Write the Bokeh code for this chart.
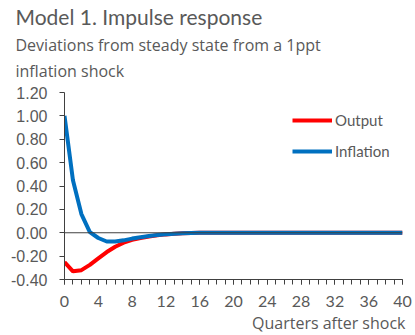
from bokeh.plotting import figure
from bokeh.models import (Range1d, FixedTicker, Span, Title, Legend, LegendItem,
                          NumeralTickFormatter)
from bokeh.embed import file_html
from bokeh.resources import INLINE

quarters = list(range(0, 41))
output = [-0.25, -0.33, -0.32, -0.275, -0.22, -0.165, -0.12, -0.085, -0.06,
          -0.045, -0.032, -0.022, -0.014, -0.008, -0.004, -0.002] + [0.0] * 25
inflation = [1.00, 0.45, 0.16, 0.005, -0.045, -0.075, -0.075, -0.065, -0.05,
             -0.038, -0.028, -0.02, -0.013, -0.008, -0.004, -0.002] + [0.0] * 25
y_ticks = [-0.4, -0.2, 0.0, 0.2, 0.4, 0.6, 0.8, 1.0, 1.2]
x_ticks = list(range(0, 41, 4))

title_text = "Model 1. Impulse response"
subtitle_1 = "Deviations from steady state from a 1ppt"
subtitle_2 = "inflation shock"
x_label = "Quarters after shock"

GRAY = "#595959"
AXIS = "#404040"

p = figure(width=415, height=335, output_backend="svg", toolbar_location=None,
           x_range=Range1d(0, 40), y_range=Range1d(-0.4, 1.2),
           min_border_left=64, min_border_right=13, min_border_top=10,
           min_border_bottom=56)
p.outline_line_color = None
p.grid.visible = False
p.background_fill_color = "white"
p.border_fill_color = "white"

# axes
p.xaxis.ticker = FixedTicker(ticks=x_ticks, minor_ticks=quarters)
p.yaxis.ticker = FixedTicker(ticks=y_ticks, minor_ticks=[])
p.yaxis.formatter = NumeralTickFormatter(format="0.00")
for ax in (p.xaxis, p.yaxis):
    ax.axis_line_color = AXIS
    ax.axis_line_width = 1
    ax.major_tick_line_color = AXIS
    ax.minor_tick_line_color = AXIS
    ax.major_tick_in = 0
    ax.minor_tick_in = 0
    ax.major_label_text_color = GRAY
p.xaxis.major_tick_out = 5
p.xaxis.minor_tick_out = 5
p.yaxis.major_tick_out = 5
p.yaxis.minor_tick_out = 0
p.xaxis.major_label_text_font = "Lato"
p.xaxis.major_label_text_font_size = "16px"
p.xaxis.major_label_standoff = 11
p.yaxis.major_label_text_font = "Liberation Sans"
p.yaxis.major_label_text_font_size = "16px"
p.yaxis.major_label_standoff = 12

# zero line
p.add_layout(Span(location=0, dimension="width", line_color=AXIS, line_width=1))

r_out = p.line(quarters, output, line_color="#FF0000", line_width=4)
r_inf = p.line(quarters, inflation, line_color="#0070C0", line_width=4)

legend = Legend(items=[LegendItem(label="Output", renderers=[r_out]),
                       LegendItem(label="Inflation", renderers=[r_inf])],
                location=(228, 118), orientation="vertical",
                background_fill_alpha=0, border_line_alpha=0,
                glyph_width=40, glyph_height=20, label_height=20,
                label_standoff=3, spacing=11, padding=0, margin=0,
                label_text_font="Lato", label_text_font_size="15px",
                label_text_color=GRAY)
p.add_layout(legend, "center")

def add_title(txt, font, size, place, align="left", offset=-49, standoff=4):
    p.add_layout(Title(text=txt, text_font=font, text_font_size=size,
                       text_color=GRAY, text_font_style="normal", align=align,
                       offset=offset, standoff=standoff), place)

add_title(" ", "Open Sans", "1px", "above", standoff=8)  # spacer above frame
add_title(subtitle_2, "Open Sans", "16px", "above", standoff=0)
add_title(subtitle_1, "Open Sans", "16px", "above", standoff=4)
add_title(title_text, "Lato", "21px", "above", standoff=2)
add_title(x_label, "Open Sans", "16px", "below", align="right", offset=-3, standoff=0)

open("out.html", "w").write(file_html(p, INLINE))
